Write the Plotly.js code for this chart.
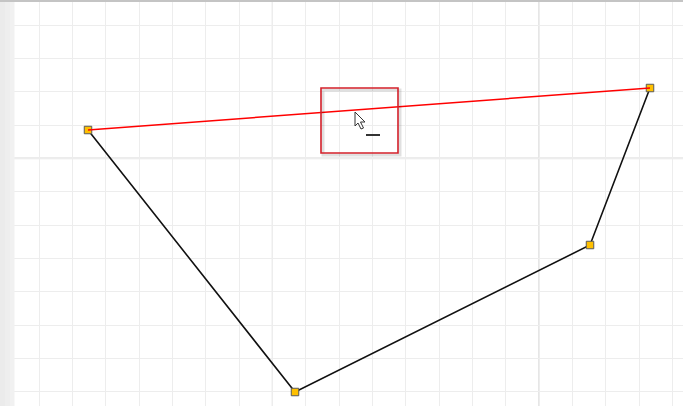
<!DOCTYPE html>
<html>
<head>
<meta charset="utf-8">
<script src="https://cdn.plot.ly/plotly-3.0.1.min.js"></script>
<style>html,body{margin:0;padding:0;background:#fff;}#chart{width:683px;height:406px;}</style>
</head>
<body>
<div id="chart"></div>
<script>
// Polygon vertices (screen-like coordinates, y grows downward)
const pointX = [88, 295, 590, 650];
const pointY = [130, 392, 245, 88];
// Closing (selected) edge: first vertex to last vertex
const edgeX = [88, 650];
const edgeY = [130, 88];
// Selection box around cursor
const boxX = [321, 398];
const boxY = [88, 153];

const traces = [
  {x: pointX, y: pointY, mode: 'lines', line: {color: '#111111', width: 1.6}, hoverinfo: 'skip', showlegend: false},
  {x: pointX, y: pointY, mode: 'markers', marker: {symbol: 'square', size: 7.5, color: '#ffc000', line: {color: '#5a5a5a', width: 1}}, hoverinfo: 'skip', showlegend: false},
  {x: edgeX, y: edgeY, mode: 'lines', line: {color: '#ff0000', width: 1.5}, hoverinfo: 'skip', showlegend: false}
];

const shapes = [
  // left panel strip (slight gradient)
  {type: 'rect', x0: 0, x1: 5, y0: 0, y1: 406, fillcolor: '#ebebeb', line: {width: 0}, layer: 'above'},
  {type: 'rect', x0: 5, x1: 10, y0: 0, y1: 406, fillcolor: '#eeeeee', line: {width: 0}, layer: 'above'},
  {type: 'rect', x0: 10, x1: 14.5, y0: 0, y1: 406, fillcolor: '#f1f1f1', line: {width: 0}, layer: 'above'},
  // top border strip
  {type: 'rect', x0: 0, x1: 683, y0: 0, y1: 2, fillcolor: '#c4c4c4', line: {width: 0}, layer: 'above'},
  // major grid lines
  {type: 'line', x0: 272.3, x1: 272.3, y0: 0, y1: 406, line: {color: '#d0d0d0', width: 1}, layer: 'below'},
  {type: 'line', x0: 539, x1: 539, y0: 0, y1: 406, line: {color: '#e6e6e6', width: 2}, layer: 'below'},
  {type: 'line', x0: 0, x1: 683, y0: 158.3, y1: 158.3, line: {color: '#e6e6e6', width: 2}, layer: 'below'},
  // box shadow
  {type: 'rect', x0: boxX[0] + 2, x1: boxX[1] + 2, y0: boxY[0] + 2, y1: boxY[1] + 2, fillcolor: 'rgba(0,0,0,0)', line: {color: 'rgba(0,0,0,0.12)', width: 3}, layer: 'above'},
  // selection box
  {type: 'rect', x0: boxX[0], x1: boxX[1], y0: boxY[0], y1: boxY[1], fillcolor: 'rgba(0,0,0,0)', line: {color: '#d3202a', width: 1.6}, layer: 'above'},
  // cursor arrow
  {type: 'path', path: 'M355,112 L355,126 L358,123 L361,129 L363.5,128 L360.5,122 L365,122 Z', fillcolor: '#ffffff', line: {color: '#333333', width: 1}, layer: 'above'},
  // dash
  {type: 'line', x0: 366, x1: 380, y0: 135, y1: 135, line: {color: '#333333', width: 2}, layer: 'above'}
];

const layout = {
  width: 683, height: 406,
  margin: {l: 0, r: 0, t: 0, b: 0},
  paper_bgcolor: '#ffffff', plot_bgcolor: '#ffffff',
  xaxis: {range: [0, 683], showgrid: true, gridcolor: '#ededed', gridwidth: 1, tick0: 39, dtick: 100/3, zeroline: false, showticklabels: false, ticks: '', fixedrange: true},
  yaxis: {range: [406, 0], showgrid: true, gridcolor: '#ededed', gridwidth: 1, tick0: 25, dtick: 100/3, zeroline: false, showticklabels: false, ticks: '', fixedrange: true},
  shapes: shapes,
  showlegend: false
};

Plotly.newPlot('chart', traces, layout, {displayModeBar: false, staticPlot: true});
</script>
</body>
</html>
